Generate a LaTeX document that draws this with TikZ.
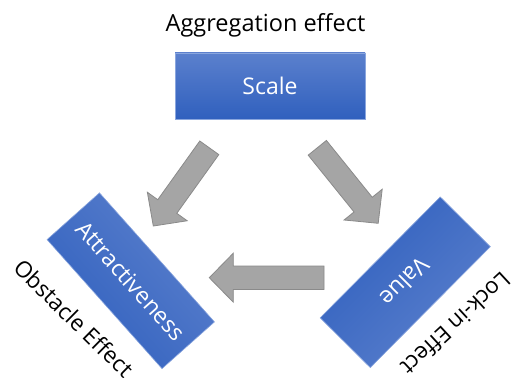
\documentclass[tikz,border=0pt]{standalone}
\usepackage{fontspec}
\setmainfont{Open Sans}
\usetikzlibrary{calc}
\definecolor{boxtop}{HTML}{5B80CD}
\definecolor{boxbot}{HTML}{3060BE}
\definecolor{boxedge}{HTML}{8AA6DE}
\definecolor{arrfill}{HTML}{A5A5A5}
\definecolor{arredge}{HTML}{8A8A8A}
\tikzset{
  bluebox/.style={rectangle, top color=boxtop, bottom color=boxbot, draw=boxedge, line width=0.6pt,
    text=white, font=\fontsize{23}{27}\selectfont, inner sep=0pt},
  lbl/.style={text=black, font=\fontsize{22.5}{26}\selectfont, inner sep=0pt},
  arrowstyle/.style={fill=arrfill, draw=arredge, line width=0.8pt, line join=miter},
  blockarrow/.pic={\path[arrowstyle] (0,-11.7) -- (#1-24,-11.7) -- (#1-24,-24.5) -- (#1,0) -- (#1-24,24.5) -- (#1-24,11.7) -- (0,11.7) -- cycle;}
}
\begin{document}
\begin{tikzpicture}[x=1pt,y=-1pt]
\useasboundingbox (0,0) rectangle (513,377);
\fill[white] (0,0) rectangle (513,377);
% title
\node[lbl, anchor=base, font=\fontsize{23.5}{27}\selectfont] (agg) at (265.5,31.5) {Aggregation effect};
% boxes
\node[bluebox, minimum width=190, minimum height=66] (scale) at (270,86) {Scale};
\node[bluebox, shading angle=-48.3, minimum width=172.8, minimum height=70.2, rotate=-48.3] (attr) at (130.75,280.75) {Attractiveness};
\node[bluebox, shading angle=225.2, minimum width=170.4, minimum height=70.6, rotate=225.2] (value) at (405.25,282.25) {Value};
% side labels
\node[lbl, rotate=-44.5] (obst) at (74,318) {Obstacle Effect};
\node[lbl, rotate=222.7] (lock) at (456,324) {Lock-in Effect};
% block arrows
\coordinate (t1) at (209.3,147.8);
\coordinate (t2) at (317.3,147.8);
\coordinate (t3) at (324,277.7);
\pic[rotate=234.4] at (t1) {blockarrow=96.2};
\pic[rotate=-51.1] at (t2) {blockarrow=97};
\pic[rotate=180] at (t3) {blockarrow=114.7};
\end{tikzpicture}
\end{document}
